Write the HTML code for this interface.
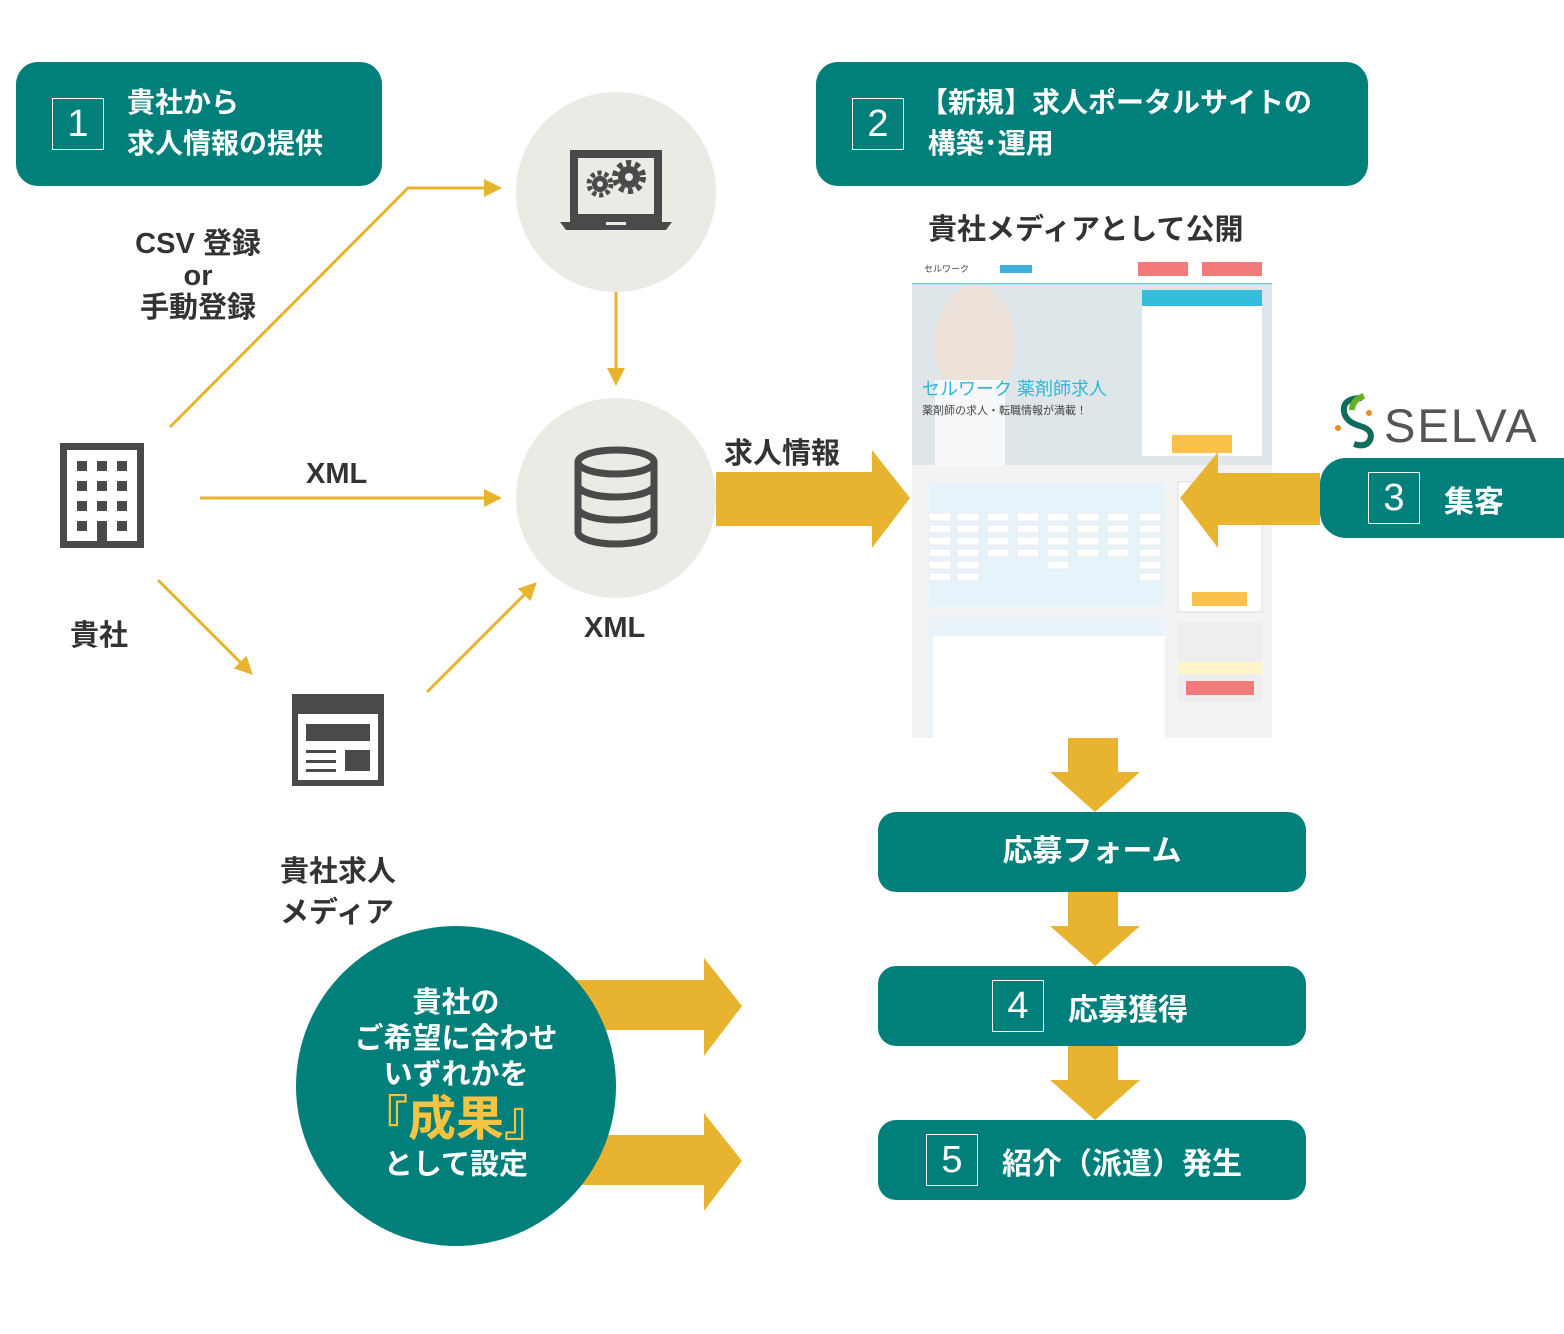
<!DOCTYPE html>
<html><head><meta charset="utf-8"><style>
body{margin:0;width:1564px;height:1334px;background:#fff;position:relative;overflow:hidden;font-family:"Liberation Sans","Noto Sans CJK JP",sans-serif;}
.a{position:absolute;}
.box{position:absolute;background:#017f7b;border-radius:22px;color:#fff;font-weight:bold;}
.num{position:absolute;border:1.5px solid #fff;width:50px;height:50px;color:#fff;font-size:38px;font-weight:normal;text-align:center;line-height:50px;}
.t{position:absolute;color:#333;font-weight:bold;white-space:nowrap;}
</style></head><body>
<svg class="a" style="left:0;top:0" width="1564" height="1334">
<defs>
<marker id="ah2" markerWidth="18" markerHeight="18" refX="14" refY="9" orient="auto" markerUnits="userSpaceOnUse" viewBox="0 0 18 18"><path d="M0,0 L18,9 L0,18z" fill="#e8b32e"/></marker></defs>
<circle cx="616" cy="192" r="100" fill="#ebebe6"/>
<circle cx="616" cy="498" r="100" fill="#ebebe6"/>
<g stroke="#e8b32e" stroke-width="3" fill="none">
<polyline points="170,427 408,188 498,188" marker-end="url(#ah2)"/>
<line x1="616" y1="292" x2="616" y2="382" marker-end="url(#ah2)"/>
<line x1="200" y1="498" x2="498" y2="498" marker-end="url(#ah2)"/>
<line x1="158" y1="580" x2="250" y2="672" marker-end="url(#ah2)"/>
<line x1="427" y1="692" x2="534" y2="585" marker-end="url(#ah2)"/>
</g>
<!-- laptop -->
<g fill="#4a4a4a"><path d="M570,150 h92 v72 h-92z M578,158 v56 h76 v-56z" fill-rule="evenodd"/><path d="M560,222 h112 l-6,8 h-100z"/><rect x="606" y="222" width="20" height="3" fill="#ebebe6"/>
<circle cx="600" cy="184" r="8"/><circle cx="600" cy="184" r="11" fill="none" stroke="#4a4a4a" stroke-width="5" stroke-dasharray="4 3"/><circle cx="600" cy="184" r="3" fill="#ebebe6"/>
<circle cx="629" cy="177" r="11"/><circle cx="629" cy="177" r="14" fill="none" stroke="#4a4a4a" stroke-width="6" stroke-dasharray="5 4"/><circle cx="629" cy="177" r="4" fill="#ebebe6"/></g>
<!-- db -->
<g fill="none" stroke="#4a4a4a" stroke-width="7"><ellipse cx="616" cy="462" rx="38" ry="12"/><path d="M578,462 v70 a38,12 0 0 0 76,0 v-70 M578,485 a38,12 0 0 0 76,0 M578,508 a38,12 0 0 0 76,0"/></g>
<!-- building -->
<g fill="#4a4a4a"><path d="M60,443 h84 v105 h-84z M67,450 v91 h70 v-91z" fill-rule="evenodd"/>
<g><rect x="77" y="461" width="10" height="10"/><rect x="97" y="461" width="10" height="10"/><rect x="117" y="461" width="10" height="10"/><rect x="77" y="481" width="10" height="10"/><rect x="97" y="481" width="10" height="10"/><rect x="117" y="481" width="10" height="10"/><rect x="77" y="501" width="10" height="10"/><rect x="97" y="501" width="10" height="10"/><rect x="117" y="501" width="10" height="10"/><rect x="77" y="521" width="10" height="10"/><rect x="97" y="521" width="10" height="10"/><rect x="117" y="521" width="10" height="10"/><rect x="97" y="521" width="10" height="27"/></g></g>
<!-- media -->
<g fill="#4a4a4a"><path d="M292,694 h92 v92 h-92z M298,714 v66 h80 v-66z" fill-rule="evenodd"/><rect x="306" y="724" width="64" height="17"/><rect x="345" y="750" width="25" height="21"/><rect x="306" y="750" width="30" height="3"/><rect x="306" y="760" width="30" height="3"/><rect x="306" y="769" width="30" height="3"/></g>
<!-- big arrows -->
<g fill="#e8b32e">
<path d="M716,472 h156 v-22 l38,48 l-38,50 v-22 h-156z"/>
<path d="M1068,738 h50 v34 h22 l-45,40 l-45,-40 h18z"/>
<path d="M1068,892 h50 v34 h22 l-45,40 l-45,-40 h18z"/>
<path d="M1068,1046 h50 v34 h22 l-45,40 l-45,-40 h18z"/>
<path d="M560,980 h144 v-22 l38,48 l-38,50 v-26 h-144z"/>
<path d="M560,1135 h144 v-22 l38,48 l-38,50 v-26 h-144z"/>
</g>
<circle cx="456" cy="1086" r="160" fill="#017f7b"/>
<!-- screenshot -->
<rect x="912" y="260" width="360" height="478" fill="#f3f3f3"/>
<rect x="912" y="260" width="360" height="23" fill="#fff"/>
<rect x="912" y="283" width="360" height="1.5" fill="#6ccbe0"/>
<rect x="1138" y="262" width="50" height="14" fill="#f27a7a"/><rect x="1202" y="262" width="60" height="14" fill="#f27a7a"/>
<rect x="1000" y="265" width="32" height="8" fill="#3cb0de"/>
<rect x="912" y="285" width="360" height="180" fill="#dfe6ea"/>
<ellipse cx="975" cy="345" rx="40" ry="60" fill="#ece2da"/>
<rect x="935" y="380" width="70" height="86" fill="#f6f8f9"/>
<rect x="1142" y="290" width="120" height="16" fill="#35bedc"/>
<rect x="1142" y="306" width="120" height="150" fill="#fff"/>
<rect x="1172" y="435" width="60" height="18" fill="#fbc24b"/>
<rect x="929" y="482" width="236" height="125" fill="#e6f3fb"/>
<rect x="1178" y="482" width="84" height="130" fill="#fff" stroke="#ddd"/>
<rect x="1192" y="592" width="55" height="14" fill="#fbc24b"/>
<rect x="929" y="617" width="236" height="121" fill="#e8f3fa"/>
<rect x="933" y="636" width="232" height="102" fill="#fff"/>
<rect x="1178" y="622" width="84" height="80" fill="#eee"/>
<rect x="1178" y="662" width="84" height="12" fill="#fff5c8"/>
<rect x="1186" y="681" width="68" height="14" fill="#f27a7a"/>
<g fill="#fff" stroke="#ddd" stroke-width="0.5">
<rect x="929" y="513" width="22" height="8"/><rect x="957" y="513" width="22" height="8"/><rect x="987" y="513" width="22" height="8"/><rect x="1017" y="513" width="22" height="8"/><rect x="1047" y="513" width="22" height="8"/><rect x="1077" y="513" width="22" height="8"/><rect x="1107" y="513" width="22" height="8"/><rect x="1139" y="513" width="22" height="8"/>
<rect x="929" y="525" width="22" height="8"/><rect x="957" y="525" width="22" height="8"/><rect x="987" y="525" width="22" height="8"/><rect x="1017" y="525" width="22" height="8"/><rect x="1047" y="525" width="22" height="8"/><rect x="1077" y="525" width="22" height="8"/><rect x="1107" y="525" width="22" height="8"/><rect x="1139" y="525" width="22" height="8"/>
<rect x="929" y="537" width="22" height="8"/><rect x="957" y="537" width="22" height="8"/><rect x="987" y="537" width="22" height="8"/><rect x="1017" y="537" width="22" height="8"/><rect x="1047" y="537" width="22" height="8"/><rect x="1077" y="537" width="22" height="8"/><rect x="1107" y="537" width="22" height="8"/><rect x="1139" y="537" width="22" height="8"/>
<rect x="929" y="549" width="22" height="8"/><rect x="957" y="549" width="22" height="8"/><rect x="987" y="549" width="22" height="8"/><rect x="1017" y="549" width="22" height="8"/><rect x="1047" y="549" width="22" height="8"/><rect x="1077" y="549" width="22" height="8"/><rect x="1107" y="549" width="22" height="8"/><rect x="1139" y="549" width="22" height="8"/>
<rect x="929" y="561" width="22" height="8"/><rect x="957" y="561" width="22" height="8"/><rect x="1047" y="561" width="22" height="8"/><rect x="1139" y="561" width="22" height="8"/>
<rect x="929" y="573" width="22" height="8"/><rect x="957" y="573" width="22" height="8"/><rect x="1139" y="573" width="22" height="8"/>
</g>
<!-- left-pointing arrow over screenshot -->
<path d="M1320,473 h-102 v-21 l-38,46 l38,50 v-23 h102z" fill="#e8b32e"/>
<!-- SELVA mark -->
<path d="M1362,398 q-20,0 -18,14 q2,10 16,14 q14,4 10,14 q-4,8 -16,4" fill="none" stroke="#0d6e5c" stroke-width="6"/>
<path d="M1364,396 q-12,4 -12,14" fill="none" stroke="#6ab023" stroke-width="6"/>
<circle cx="1338" cy="428" r="3" fill="#f08a24"/><circle cx="1369" cy="413" r="3" fill="#f08a24"/>
</svg>
<div class="t" style="left:922px;top:375px;font-size:18px;color:#2fb6d8;font-weight:normal">セルワーク 薬剤師求人</div>
<div class="t" style="left:922px;top:402px;font-size:11px;color:#444;font-weight:normal">薬剤師の求人・転職情報が満載！</div>
<div class="t" style="left:924px;top:262px;font-size:9px;color:#444;font-weight:normal">セルワーク</div>
<div class="t" style="left:1384px;top:398px;font-size:47px;color:#555;font-weight:normal;letter-spacing:2px">SELVA</div>

<div class="box" style="left:16px;top:62px;width:366px;height:124px"><div class="num" style="left:36px;top:36px">1</div><div class="a" style="left:111px;top:20px;font-size:28px;line-height:41px">貴社から<br>求人情報の提供</div></div>
<div class="box" style="left:816px;top:62px;width:552px;height:124px"><div class="num" style="left:36px;top:36px">2</div><div class="a" style="left:104px;top:20px;font-size:28px;line-height:41px;white-space:nowrap">【新規】求人ポータルサイトの<br>&nbsp;構築･運用</div></div>
<div class="box" style="left:1320px;top:458px;width:270px;height:80px;border-radius:26px"><div class="num" style="left:48px;top:14px">3</div><div class="a" style="left:124px;top:19px;font-size:30px">集客</div></div>
<div class="box" style="left:878px;top:812px;width:428px;height:80px;border-radius:18px;text-align:center;line-height:80px;font-size:30px">応募フォーム</div>
<div class="box" style="left:878px;top:966px;width:428px;height:80px;border-radius:18px"><div class="num" style="left:114px;top:14px">4</div><div class="a" style="left:190px;top:19px;font-size:30px">応募獲得</div></div>
<div class="box" style="left:878px;top:1120px;width:428px;height:80px;border-radius:18px"><div class="num" style="left:48px;top:14px">5</div><div class="a" style="left:124px;top:19px;font-size:30px;white-space:nowrap">紹介（派遣）発生</div></div>

<div class="t" style="left:98px;top:228px;width:200px;text-align:center;font-size:29px;line-height:32px">CSV 登録<br>or<br>手動登録</div>
<div class="t" style="left:306px;top:458px;font-size:29px">XML</div>
<div class="t" style="left:584px;top:612px;font-size:29px">XML</div>
<div class="t" style="left:70px;top:612px;font-size:29px">貴社</div>
<div class="t" style="left:724px;top:430px;font-size:29px">求人情報</div>
<div class="t" style="left:928px;top:206px;font-size:29px">貴社メディアとして公開</div>
<div class="t" style="left:280px;top:852px;font-size:29px;line-height:41px">貴社求人<br>メディア</div>
<div class="a" style="left:296px;top:985px;width:320px;text-align:center;color:#fff;font-weight:bold;font-size:29px;line-height:36px">貴社の<br>ご希望に合わせ<br>いずれかを<br><span style="color:#f6c343;font-size:48px;line-height:54px">『成果』</span><br>として設定</div>
</body></html>
